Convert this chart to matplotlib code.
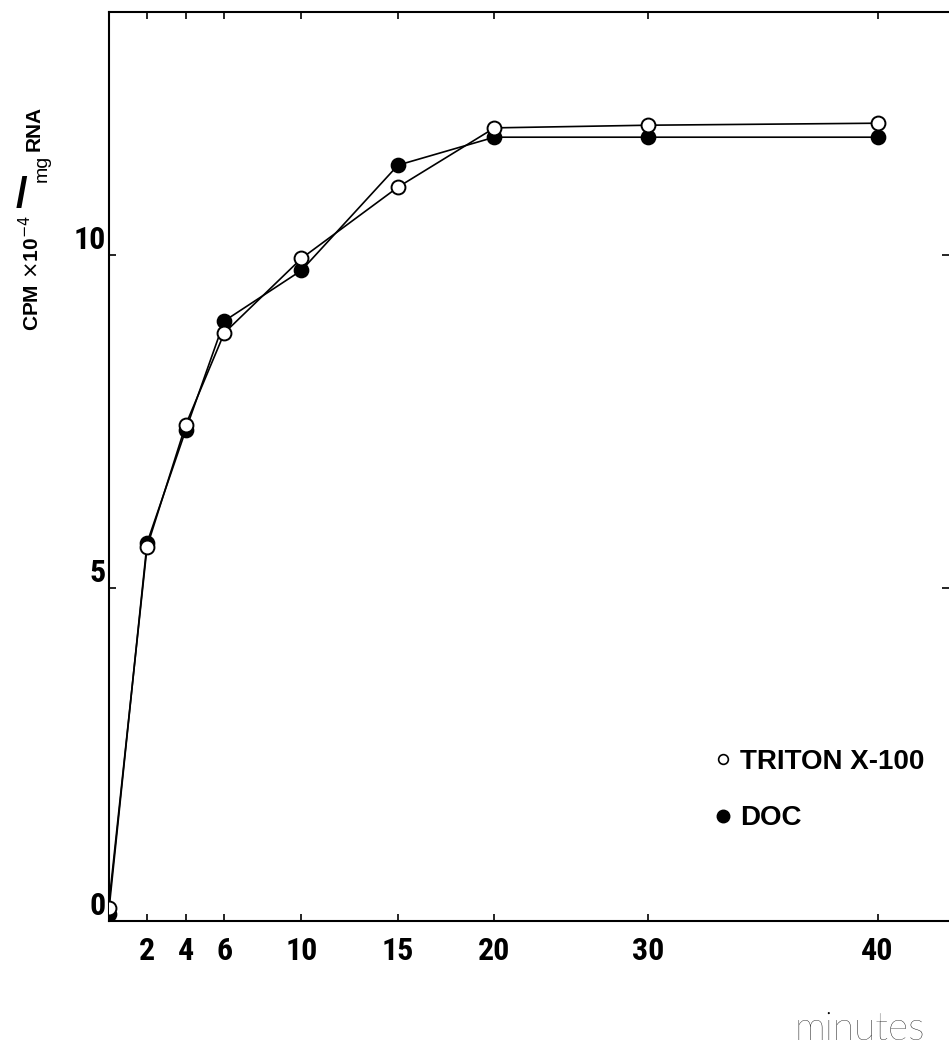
import numpy as np
import matplotlib
matplotlib.use('Agg')
import matplotlib.pyplot as plt
from matplotlib.lines import Line2D

# data
minutes = [0, 2, 4, 6, 10, 15, 20, 30, 40]
triton = [0.2, 5.62, 7.45, 8.83, 9.95, 11.02, 11.91, 11.95, 11.98]
doc = [0.1, 5.68, 7.37, 9.01, 9.77, 11.35, 11.77, 11.77, 11.77]
xticks = [2, 4, 6, 10, 15, 20, 30, 40]
yticks = [0, 5, 10]

# the time axis of the original is hand drawn: even up to 20 min, uneven after
x_knots = [-100, 0, 20, 30, 40, 200]
t_knots = [-100, 0, 20, 27.98, 39.85, 39.85 + 160 * 1.187]

def fwd(x):
    return np.interp(x, x_knots, t_knots)

def inv(t):
    return np.interp(t, t_knots, x_knots)

W, H = 949, 1045
fig = plt.figure(figsize=(W / 100, H / 100), dpi=100)
ax = fig.add_axes([108.5 / W, 1 - 921 / H, (W - 108.5) / W, (921 - 12) / H])

ax.set_xscale('function', functions=(fwd, inv))
ax.set_xlim(0, 43.12)
ax.set_ylim(0, 13.65)

ax.plot(minutes, doc, '-o', color='k', lw=1.2, ms=10, mfc='k', mec='k', mew=1.3, zorder=3)
ax.plot(minutes, triton, '-o', color='k', lw=1.2, ms=10, mfc='white', mec='k', mew=1.4, zorder=4)

tick_font = ['Roboto Condensed', 'DejaVu Sans']
ax.set_xticks(xticks)
ax.set_xticklabels([str(t) for t in xticks], fontsize=23, fontweight='bold',
                   family=tick_font, fontstretch='condensed')
ax.set_yticks(yticks)
ax.set_yticklabels([str(t) for t in yticks], fontsize=23, fontweight='bold',
                   family=tick_font, fontstretch='condensed')
for lab in ax.get_yticklabels():
    lab.set_va('bottom')
ax.minorticks_off()
ax.tick_params(axis='both', direction='in', length=5, width=1.2, top=True, right=True)
ax.tick_params(axis='x', pad=11)
ax.tick_params(axis='y', pad=2)
for s in ['left', 'top', 'bottom']:
    ax.spines[s].set_linewidth(1.5)
ax.spines['right'].set_visible(False)

# legend
handles = [Line2D([], [], ls='none', marker='o', ms=7, mfc='white', mec='k', mew=1.2),
           Line2D([], [], ls='none', marker='o', ms=9, mfc='k', mec='k')]
ax.legend(handles, ['TRITON X-100', 'DOC'], loc='center left',
          bbox_to_anchor=(712 / W, 1 - 790 / H), bbox_transform=fig.transFigure,
          frameon=False, handlelength=0.8, handletextpad=0.2, labelspacing=1.1,
          borderpad=0, borderaxespad=0,
          prop={'family': 'Liberation Sans', 'weight': 'bold', 'size': 20})

# axis titles
fig.text(860 / W, 1 - 1029 / H, 'minutes', fontsize=28, family='Lato', fontweight='light',
         color='black', ha='center', va='center')
lab_font = {'family': 'Liberation Sans', 'weight': 'bold', 'size': 15}
fig.text(31 / W, 1 - 273 / H, r'CPM $\times$10$^{-4}$', rotation=90, ha='center', va='center', **lab_font)
fig.text(21 / W, 1 - 196 / H, '/', rotation=0, ha='center', va='center',
         family='Liberation Sans', fontweight='bold', fontsize=30)
fig.text(42 / W, 1 - 168 / H, 'mg', rotation=90, ha='center', va='center',
         family='Liberation Sans', fontsize=14)
fig.text(34 / W, 1 - 128 / H, 'RNA', rotation=90, ha='center', va='center', **lab_font)

fig.savefig('out.png', dpi=100)
